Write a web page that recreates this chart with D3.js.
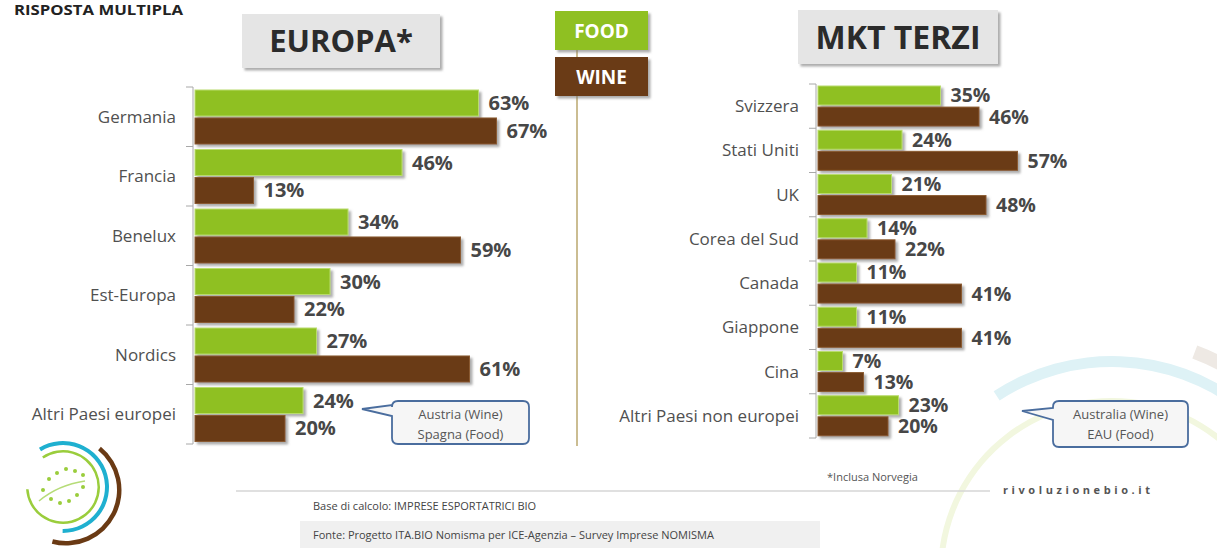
<!DOCTYPE html>
<html>
<head>
<meta charset="utf-8">
<script src="https://cdn.jsdelivr.net/npm/d3@7"></script>
<style>
  body { margin: 0; background: #fff; }
  svg { display: block; font-family: "Open Sans", "DejaVu Sans", sans-serif; }
</style>
</head>
<body>
<div id="chart"></div>
<script>
// data
var series = ["food", "wine"]

var euroCats = ["Germania", "Francia", "Benelux", "Est-Europa", "Nordics", "Altri Paesi europei"]
var euroFood = [63, 46, 34, 30, 27, 24]
var euroWine = [67, 13, 59, 22, 61, 20]

var mktCats = ["Svizzera", "Stati Uniti", "UK", "Corea del Sud", "Canada", "Giappone", "Cina", "Altri Paesi non europei"]
var mktFood = [35, 24, 21, 14, 11, 11, 7, 23]
var mktWine = [46, 57, 48, 22, 41, 41, 13, 20]

var width = 1217, height = 548
var green = "#8fc021", brown = "#6a3a14"

var svg = d3.select("#chart")
  .append("svg")
  .attr("width", width)
  .attr("height", height)

var defs = svg.append("defs")
defs.append("filter").attr("id", "shadow")
  .attr("x", "-10%").attr("y", "-20%").attr("width", "130%").attr("height", "160%")
  .append("feDropShadow")
  .attr("dx", 2.5).attr("dy", 2.5).attr("stdDeviation", 1.2)
  .attr("flood-color", "#777").attr("flood-opacity", 0.6)

// faint decorative arcs in the bottom right corner
var deco = svg.append("g").attr("transform", "translate(1112,572)")
deco.append("path")
  .attr("d", d3.arc()({innerRadius: 205, outerRadius: 216, startAngle: -0.58, endAngle: 1.9}))
  .attr("fill", "#def2f6")
deco.append("path")
  .attr("d", d3.arc()({innerRadius: 168, outerRadius: 174, startAngle: -1.75, endAngle: 1.75}))
  .attr("fill", "#f2f7df")
deco.append("path")
  .attr("d", d3.arc()({innerRadius: 228, outerRadius: 242, startAngle: 0.36, endAngle: 0.6}))
  .attr("fill", "#eee9e4")

// top-left note
svg.append("text")
  .attr("x", 14).attr("y", 15)
  .attr("textLength", 169)
  .attr("lengthAdjust", "spacingAndGlyphs")
  .style("font-size", "14px").style("font-weight", "bold").style("fill", "#222")
  .text("RISPOSTA MULTIPLA")

// panel titles
function titleBox(x, y, w, h, label, size) {
  svg.append("rect")
    .attr("x", x).attr("y", y).attr("width", w).attr("height", h)
    .attr("fill", "#e5e5e5")
    .attr("filter", "url(#shadow)")
  svg.append("text")
    .attr("x", x + w / 2).attr("y", y + h / 2 + size * 0.36)
    .attr("text-anchor", "middle")
    .style("font-size", size + "px").style("font-weight", "bold").style("fill", "#2b2b2b")
    .text(label)
}
titleBox(242, 14, 198, 54, "EUROPA*", 31)
titleBox(798, 10, 200, 54, "MKT TERZI", 32)

// central divider and legend
svg.append("line")
  .attr("x1", 577).attr("x2", 577).attr("y1", 48).attr("y2", 446)
  .attr("stroke", "#cbbd92").attr("stroke-width", 2)

var legColor = d3.scaleOrdinal().domain(series).range([green, brown])
var legend = svg.selectAll("g.leg")
  .data(series)
  .enter()
  .append("g")
  .attr("transform", function(d, i) { return "translate(555," + (11 + i * 46) + ")" })
legend.append("rect")
  .attr("width", 93).attr("height", 39)
  .attr("fill", function(d) { return legColor(d) })
  .attr("filter", "url(#shadow)")
legend.append("text")
  .attr("x", 46.5).attr("y", 27)
  .attr("text-anchor", "middle")
  .style("font-size", "19px").style("font-weight", "bold").style("fill", "#fff")
  .text(function(d) { return d.toUpperCase() })

// one horizontal grouped bar panel
function panel(cats, food, wine, opts) {
  var rows = cats.map(function(c, i) { return {cat: c, food: food[i], wine: wine[i]} })

  var x = d3.scaleLinear().domain([0, 100]).range([opts.x0, opts.x0 + opts.pxPerPct * 100])
  var y = d3.scaleBand().domain(cats).range([opts.y0, opts.y1])
  var ys = d3.scaleBand().domain(series)
    .range([opts.inner[0], y.bandwidth() - opts.inner[1]])
    .paddingInner(opts.pad)

  var g = svg.append("g")

  // axis with ticks at the band edges
  var edges = cats.map(function(c) { return y(c) }).concat([opts.y1])
  g.append("line")
    .attr("x1", opts.axisX).attr("x2", opts.axisX)
    .attr("y1", opts.y0).attr("y2", opts.y1)
    .attr("stroke", "#a8a8a8")
  g.selectAll("line.tick")
    .data(edges)
    .enter()
    .append("line")
    .attr("x1", opts.axisX - 7).attr("x2", opts.axisX)
    .attr("y1", function(d) { return d }).attr("y2", function(d) { return d })
    .attr("stroke", "#a8a8a8")

  g.selectAll("text.cat")
    .data(rows)
    .enter()
    .append("text")
    .attr("x", opts.axisX - 17)
    .attr("y", function(d) { return y(d.cat) + y.bandwidth() / 2 + 6 })
    .attr("text-anchor", "end")
    .style("font-size", "17px").style("fill", "#505050")
    .text(function(d) { return d.cat })

  var bars = []
  rows.forEach(function(r) {
    series.forEach(function(s) { bars.push({cat: r.cat, s: s, v: r[s]}) })
  })

  g.selectAll("rect.bar")
    .data(bars)
    .enter()
    .append("rect")
    .attr("x", x(0))
    .attr("y", function(d) { return y(d.cat) + ys(d.s) })
    .attr("width", function(d) { return x(d.v) - x(0) })
    .attr("height", ys.bandwidth())
    .attr("fill", function(d) { return legColor(d.s) })
    .attr("stroke", function(d) { return d.s == "food" ? "#b9dc6c" : "#8a5a30" })
    .attr("stroke-width", 1)
    .attr("filter", "url(#shadow)")

  g.selectAll("text.val")
    .data(bars)
    .enter()
    .append("text")
    .attr("x", function(d) { return x(d.v) + 10 })
    .attr("y", function(d) { return y(d.cat) + ys(d.s) + ys.bandwidth() / 2 + 7 })
    .style("font-size", opts.valSize + "px").style("font-weight", "bold").style("fill", "#474747")
    .text(function(d) { return d.v + "%" })
}

panel(euroCats, euroFood, euroWine, {
  x0: 195, pxPerPct: 4.5, axisX: 193, y0: 87, y1: 444, inner: [3, 2.5], pad: 0.07, valSize: 20
})
panel(mktCats, mktFood, mktWine, {
  x0: 818, pxPerPct: 3.5, axisX: 816, y0: 84, y1: 438, inner: [2, 2.2], pad: 0.1, valSize: 19.5
})

// callouts
function callout(bx, by, bw, bh, tip, baseTop, baseBot, lines) {
  var r = 6
  var p = d3.path()
  p.moveTo(bx + r, by)
  p.lineTo(bx + bw - r, by)
  p.quadraticCurveTo(bx + bw, by, bx + bw, by + r)
  p.lineTo(bx + bw, by + bh - r)
  p.quadraticCurveTo(bx + bw, by + bh, bx + bw - r, by + bh)
  p.lineTo(bx + r, by + bh)
  p.quadraticCurveTo(bx, by + bh, bx, by + bh - r)
  p.lineTo(bx, baseBot)
  p.lineTo(tip[0], tip[1])
  p.lineTo(bx, baseTop)
  p.lineTo(bx, by + r)
  p.quadraticCurveTo(bx, by, bx + r, by)
  p.closePath()
  svg.append("path")
    .attr("d", p.toString())
    .attr("fill", "#f6f6f6")
    .attr("stroke", "#4a6d9e").attr("stroke-width", 1.8)
  svg.selectAll(null)
    .data(lines)
    .enter()
    .append("text")
    .attr("x", bx + bw / 2)
    .attr("y", function(d, i) { return by + 18 + i * 20 })
    .attr("text-anchor", "middle")
    .style("font-size", "13px").style("fill", "#555")
    .text(function(d) { return d })
}
callout(392, 401, 137, 43, [362, 409], 405, 416, ["Austria (Wine)", "Spagna (Food)"])
callout(1053, 401, 135, 46, [1022, 411], 408, 420, ["Australia (Wine)", "EAU (Food)"])

// footer
svg.append("text")
  .attr("x", 827).attr("y", 481)
  .style("font-size", "11px").style("fill", "#555")
  .text("*Inclusa Norvegia")
svg.append("line")
  .attr("x1", 236).attr("x2", 990).attr("y1", 491).attr("y2", 491)
  .attr("stroke", "#d6d6d6").attr("stroke-width", 1.5)
svg.append("text")
  .attr("x", 1003).attr("y", 494)
  .attr("textLength", 147)
  .style("font-size", "11px").style("font-weight", "bold").style("fill", "#555")
  .text("rivoluzionebio.it")
svg.append("text")
  .attr("x", 313).attr("y", 510)
  .style("font-size", "11px").style("fill", "#444")
  .text("Base di calcolo: IMPRESE ESPORTATRICI BIO")
svg.append("rect")
  .attr("x", 300).attr("y", 521).attr("width", 520).attr("height", 27)
  .attr("fill", "#f0f0f0")
svg.append("text")
  .attr("x", 313).attr("y", 539)
  .style("font-size", "11px").style("fill", "#444")
  .text("Fonte: Progetto ITA.BIO Nomisma per ICE-Agenzia \u2013 Survey Imprese NOMISMA")

// logo bottom left
var logo = svg.append("g").attr("transform", "translate(63,487)")
logo.append("path")
  .attr("d", d3.arc()({innerRadius: 34.5, outerRadius: 37, startAngle: -0.6, endAngle: 4.65}))
  .attr("fill", "#9acd3c")
logo.append("path")
  .attr("d", d3.arc()({innerRadius: 42, outerRadius: 46, startAngle: -0.55, endAngle: 3.15}))
  .attr("fill", "#1fb0d0")
logo.append("path")
  .attr("d", d3.arc().innerRadius(51).outerRadius(55.5).startAngle(0.68).endAngle(3.4)())
  .attr("transform", "translate(3,3)")
  .attr("fill", "#6a3a14")
var leafDots = [[-20, 3], [-14, -8], [-6, -14], [3, -18], [12, -16], [20, -12], [20, 0], [14, 8], [6, 14], [-3, 16], [-12, 12]]
logo.selectAll("circle")
  .data(leafDots)
  .enter()
  .append("circle")
  .attr("cx", function(d) { return d[0] }).attr("cy", function(d) { return d[1] })
  .attr("r", 2)
  .attr("fill", "#9acd3c")
logo.append("path")
  .attr("d", "M-24,14 Q-5,-2 22,-6")
  .attr("fill", "none").attr("stroke", "#b6dc78").attr("stroke-width", 1.5)
</script>
</body>
</html>
